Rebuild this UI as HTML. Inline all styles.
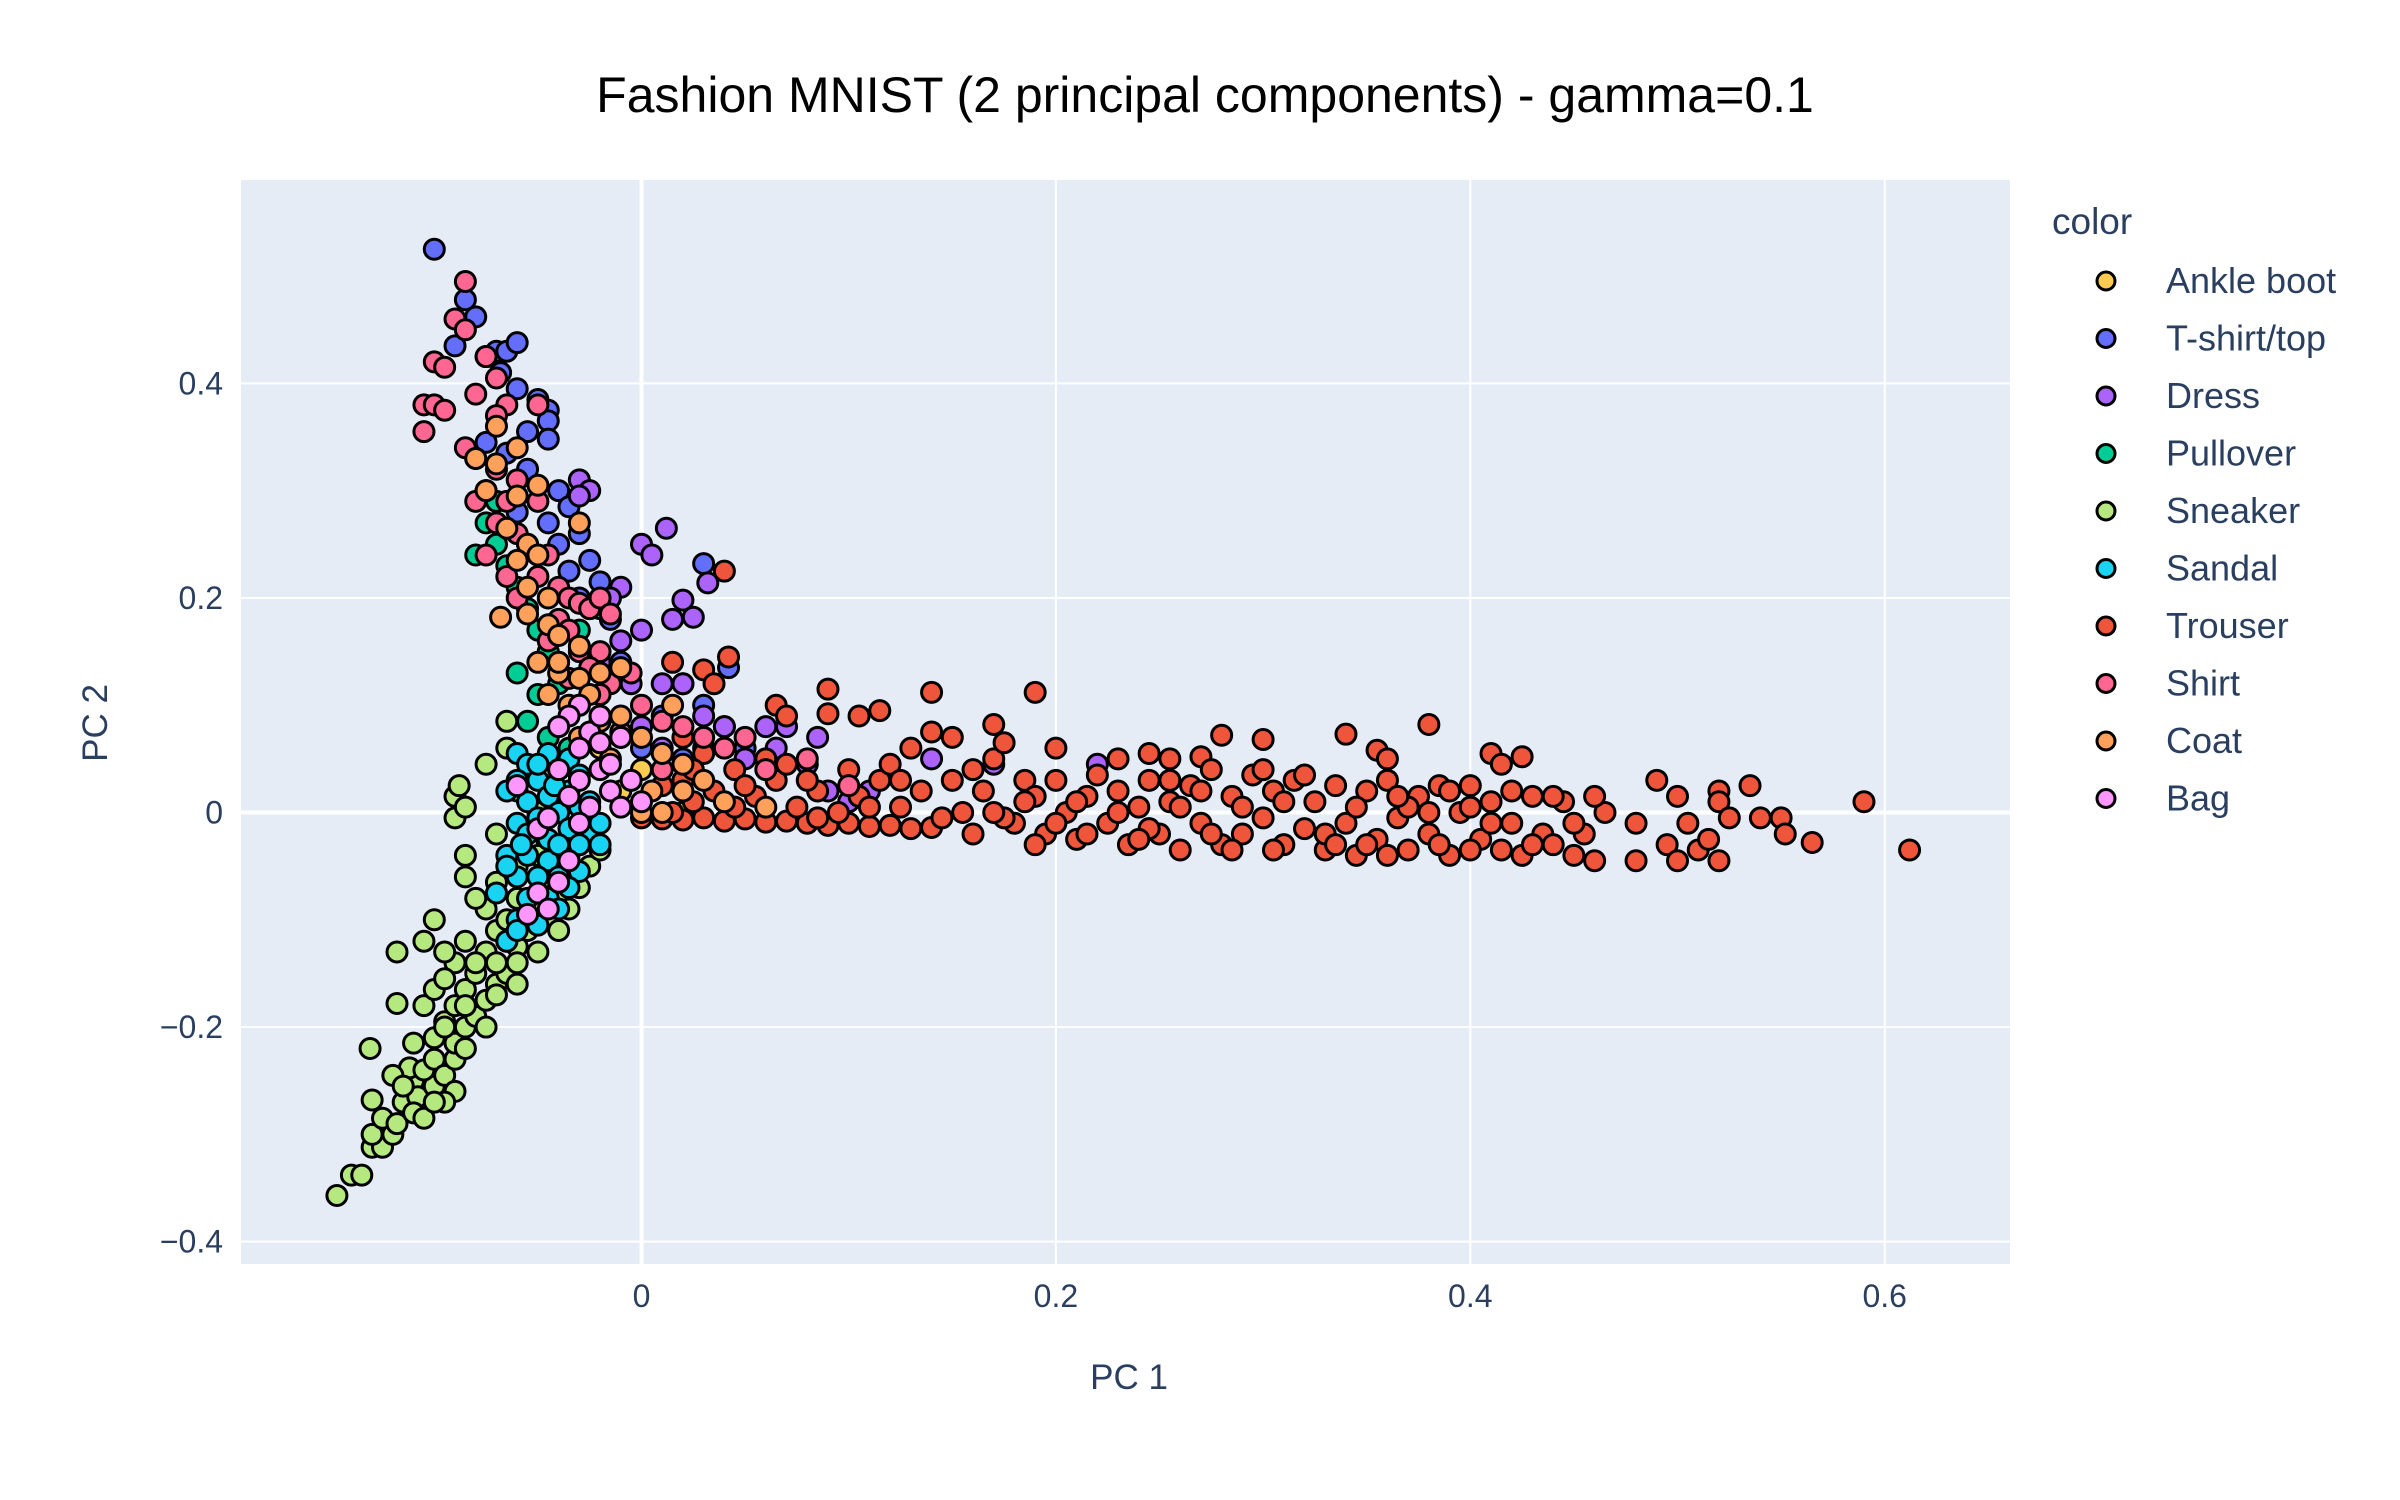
<!DOCTYPE html>
<html><head><meta charset="utf-8"><style>
html,body{margin:0;padding:0;background:#fff;}
svg{display:block;font-family:"Liberation Sans",sans-serif;}
</style></head><body>
<svg id="chart" width="2400" height="1500" viewBox="0 0 2400 1500" xmlns="http://www.w3.org/2000/svg">
<rect x="0" y="0" width="2400" height="1500" fill="#fff"/>
<rect x="241" y="180" width="1769" height="1084" fill="#e5ecf6"/>
<g id="grid"></g>
<g id="marks"></g>
<g id="axes"></g>
<text x="1205" y="112" text-anchor="middle" font-size="50" fill="#000">Fashion MNIST (2 principal components) - gamma=0.1</text>
<text x="1129" y="1389" text-anchor="middle" font-size="35" fill="#2a3f5f">PC 1</text>
<text transform="translate(107,723) rotate(-90)" text-anchor="middle" font-size="35" fill="#2a3f5f">PC 2</text>
<g id="legend"></g>
</svg>
<script>
const xTicks=[0,0.2,0.4,0.6];
const xTickLabels=["0","0.2","0.4","0.6"];
const yTicks=[-0.4,-0.2,0,0.2,0.4];
const yTickLabels=["−0.4","−0.2","0","0.2","0.4"];
const categories=["Ankle boot","T-shirt/top","Dress","Pullover","Sneaker","Sandal","Trouser","Shirt","Coat","Bag"];
const colors=["#FECB52","#636EFA","#AB63FA","#00CC96","#B6E880","#19D3F3","#EF553B","#FF6692","#FFA15A","#FF97FF"];
const ankleBoot=[[-0.02,0.06],[0.0,0.04],[-0.01,0.02],[0.02,0.0]];
const tshirt=[[-0.1,0.525],[-0.085,0.478],[-0.08,0.462],[-0.09,0.435],[-0.075,0.425],[-0.07,0.43],[-0.065,0.43],[-0.06,0.438],[-0.068,0.41],[-0.06,0.395],[-0.05,0.385],[-0.045,0.375],[-0.045,0.365],[-0.045,0.348],[-0.055,0.355],[-0.075,0.345],[-0.065,0.335],[-0.055,0.32],[-0.04,0.3],[-0.035,0.285],[-0.045,0.27],[-0.03,0.26],[-0.025,0.235],[-0.035,0.225],[-0.02,0.215],[-0.015,0.18],[-0.025,0.19],[-0.04,0.25],[0.03,0.232],[0.02,0.12],[0.03,0.1],[0.04,0.08],[0.01,0.09],[-0.01,0.14],[0.05,0.06],[0.0,0.06],[0.02,0.05],[-0.03,0.2],[-0.05,0.24],[-0.06,0.28],[0.042,0.135]];
const dress=[[0.012,0.265],[0.0,0.25],[0.005,0.24],[0.032,0.214],[0.02,0.198],[0.015,0.18],[0.025,0.182],[-0.01,0.21],[-0.015,0.2],[0.0,0.17],[-0.01,0.16],[0.01,0.12],[0.02,0.12],[-0.03,0.31],[-0.025,0.3],[-0.03,0.295],[0.03,0.09],[0.04,0.08],[0.06,0.08],[0.07,0.08],[0.065,0.06],[0.08,0.045],[0.09,0.02],[0.11,0.02],[0.1,0.01],[0.0,0.08],[0.01,0.06],[-0.02,0.14],[-0.005,0.12],[0.03,0.06],[0.05,0.05],[0.085,0.07],[0.14,0.05],[0.17,0.045],[0.22,0.045]];
const pullover=[[-0.08,0.24],[-0.075,0.27],[-0.07,0.25],[-0.065,0.23],[-0.06,0.21],[-0.055,0.19],[-0.05,0.17],[-0.045,0.15],[-0.04,0.14],[-0.06,0.13],[-0.05,0.11],[-0.04,0.12],[-0.03,0.1],[-0.02,0.09],[-0.055,0.085],[-0.045,0.07],[-0.035,0.06],[-0.02,0.19],[-0.03,0.17],[-0.01,0.07],[-0.07,0.29]];
const sneaker=[[-0.147,-0.357],[-0.14,-0.338],[-0.135,-0.338],[-0.13,-0.312],[-0.125,-0.312],[-0.13,-0.3],[-0.12,-0.3],[-0.13,-0.268],[-0.125,-0.285],[-0.115,-0.27],[-0.118,-0.29],[-0.131,-0.22],[-0.11,-0.25],[-0.108,-0.265],[-0.1,-0.255],[-0.112,-0.238],[-0.105,-0.24],[-0.1,-0.23],[-0.095,-0.245],[-0.09,-0.23],[-0.11,-0.215],[-0.1,-0.21],[-0.09,-0.215],[-0.085,-0.2],[-0.095,-0.195],[-0.105,-0.18],[-0.118,-0.178],[-0.09,-0.18],[-0.08,-0.19],[-0.075,-0.175],[-0.085,-0.165],[-0.07,-0.16],[-0.08,-0.15],[-0.065,-0.15],[-0.09,-0.14],[-0.095,-0.13],[-0.118,-0.13],[-0.105,-0.12],[-0.1,-0.1],[-0.085,-0.12],[-0.075,-0.13],[-0.06,-0.125],[-0.07,-0.11],[-0.075,-0.09],[-0.065,-0.1],[-0.055,-0.11],[-0.08,-0.08],[-0.06,-0.08],[-0.07,-0.065],[-0.085,-0.06],[-0.05,-0.09],[-0.045,-0.1],[-0.06,-0.05],[-0.045,-0.06],[-0.04,-0.075],[-0.085,-0.04],[-0.09,-0.005],[-0.09,0.015],[-0.088,0.025],[-0.085,0.005],[-0.075,0.045],[-0.065,0.085],[-0.065,0.06],[-0.055,-0.03],[-0.05,-0.04],[-0.035,-0.05],[-0.03,-0.03],[-0.06,0.02],[-0.07,-0.02],[-0.05,0.0],[-0.05,-0.13],[-0.06,-0.14],[-0.07,-0.17],[-0.09,-0.26],[-0.095,-0.27],[-0.11,-0.28],[-0.105,-0.285],[-0.085,-0.22],[-0.075,-0.2],[-0.06,-0.16],[-0.04,-0.11],[-0.035,-0.09],[-0.03,-0.07],[-0.025,-0.05],[-0.02,-0.035],[-0.1,-0.165],[-0.095,-0.155],[-0.08,-0.14],[-0.07,-0.14],[-0.065,-0.12],[-0.12,-0.245],[-0.115,-0.255],[-0.1,-0.27],[-0.095,-0.2],[-0.085,-0.18]];
const sandal=[[-0.06,0.055],[-0.055,0.045],[-0.045,0.055],[-0.06,0.03],[-0.065,0.02],[-0.05,0.03],[-0.04,0.04],[-0.035,0.05],[-0.03,0.035],[-0.055,0.01],[-0.045,0.015],[-0.035,0.02],[-0.06,-0.01],[-0.05,-0.005],[-0.04,0.0],[-0.03,0.005],[-0.025,0.01],[-0.055,-0.02],[-0.045,-0.025],[-0.035,-0.015],[-0.025,-0.02],[-0.065,-0.04],[-0.055,-0.04],[-0.045,-0.045],[-0.035,-0.04],[-0.03,-0.03],[-0.06,-0.06],[-0.05,-0.06],[-0.04,-0.06],[-0.03,-0.055],[-0.055,-0.08],[-0.045,-0.08],[-0.035,-0.07],[-0.06,-0.1],[-0.05,-0.105],[-0.065,-0.12],[-0.06,-0.11],[-0.04,-0.09],[-0.07,-0.075],[-0.065,-0.05],[-0.02,-0.01],[-0.02,-0.03],[-0.04,-0.03],[-0.05,0.045],[-0.042,0.025],[-0.058,-0.03]];
const trouser=[[0.04,0.225],[0.042,0.145],[0.03,0.133],[0.035,0.12],[0.015,0.14],[0.09,0.115],[0.14,0.112],[0.19,0.112],[0.115,0.095],[0.105,0.09],[0.065,0.1],[0.07,0.09],[0.09,0.092],[0.17,0.082],[0.2,0.06],[0.28,0.072],[0.3,0.068],[0.34,0.073],[0.38,0.082],[0.41,0.055],[0.415,0.045],[0.425,0.052],[0.355,0.058],[0.36,0.05],[0.27,0.052],[0.23,0.05],[0.255,0.05],[0.245,0.055],
[0.0,-0.005],[0.01,-0.006],[0.02,-0.007],[0.03,-0.005],[0.04,-0.008],[0.05,-0.006],[0.06,-0.009],[0.07,-0.008],[0.08,-0.01],[0.09,-0.012],[0.1,-0.01],[0.11,-0.013],[0.12,-0.012],[0.13,-0.015],[0.14,-0.014],[0.015,0.0],[0.025,0.01],[0.035,0.02],[0.045,0.005],[0.055,0.015],[0.065,0.03],[0.075,0.005],[0.085,0.02],[0.095,0.0],[0.105,0.015],[0.115,0.03],[0.125,0.005],[0.135,0.02],[0.145,-0.005],[0.06,0.05],[0.07,0.045],[0.08,0.03],[0.1,0.04],[0.12,0.045],[0.13,0.06],[0.14,0.075],[0.15,0.07],[0.15,0.03],[0.155,0.0],[0.16,-0.02],[0.165,0.02],[0.17,0.05],[0.175,0.065],[0.18,-0.01],[0.185,0.03],[0.19,0.015],[0.195,-0.02],[0.2,0.03],[0.205,0.0],[0.21,-0.025],[0.215,0.015],[0.22,0.035],[0.225,-0.01],[0.23,0.02],[0.235,-0.03],[0.24,0.005],[0.245,0.03],[0.25,-0.02],[0.255,0.01],[0.26,-0.035],[0.265,0.025],[0.27,-0.01],[0.275,0.04],[0.28,-0.03],[0.285,0.015],[0.29,-0.02],[0.295,0.035],[0.3,-0.005],[0.305,0.02],[0.31,-0.03],[0.315,0.03],[0.32,-0.015],[0.325,0.01],[0.33,-0.035],[0.335,0.025],[0.34,-0.01],[0.345,-0.04],[0.35,0.02],[0.355,-0.025],[0.36,0.03],[0.365,-0.005],[0.37,-0.035],[0.375,0.015],[0.38,-0.02],[0.385,0.025],[0.39,-0.04],[0.395,0.0],[0.4,0.025],[0.405,-0.025],[0.41,0.01],[0.415,-0.035],[0.42,-0.01],[0.425,-0.04],[0.43,0.015],[0.435,-0.02],[0.44,-0.03],[0.445,0.01],[0.45,-0.04],[0.455,-0.02],[0.46,-0.045],[0.465,0.0],[0.46,0.015],[0.48,-0.045],[0.48,-0.01],[0.49,0.03],[0.495,-0.03],[0.5,-0.045],[0.5,0.015],[0.505,-0.01],[0.51,-0.035],[0.515,-0.025],[0.52,0.02],[0.52,0.01],[0.525,-0.005],[0.52,-0.045],[0.535,0.025],[0.54,-0.005],[0.55,-0.005],[0.552,-0.02],[0.565,-0.028],[0.59,0.01],[0.612,-0.035],[0.02,0.03],[0.045,0.04],[0.05,0.025],[0.085,-0.005],[0.11,0.005],[0.125,0.03],[0.16,0.04],[0.175,-0.005],[0.185,0.01],[0.2,-0.01],[0.215,-0.02],[0.23,0.0],[0.245,-0.015],[0.26,0.005],[0.27,0.02],[0.285,-0.035],[0.3,0.04],[0.31,0.01],[0.32,0.035],[0.33,-0.02],[0.345,0.005],[0.36,-0.04],[0.37,0.005],[0.38,0.0],[0.39,0.02],[0.4,-0.035],[0.41,-0.01],[0.42,0.02],[0.43,-0.03],[0.44,0.015],[0.45,-0.01],[0.17,0.0],[0.19,-0.03],[0.21,0.01],[0.24,-0.025],[0.255,0.03],[0.275,-0.02],[0.29,0.005],[0.305,-0.035],[0.335,-0.03],[0.35,-0.03],[0.365,0.015],[0.385,-0.03],[0.4,0.005],[0.02,0.07],[0.03,0.055],[0.01,0.025],[0.025,0.04]];
const shirt=[[-0.085,0.495],[-0.09,0.46],[-0.085,0.45],[-0.1,0.42],[-0.095,0.415],[-0.105,0.38],[-0.1,0.38],[-0.095,0.375],[-0.105,0.355],[-0.08,0.39],[-0.075,0.425],[-0.07,0.405],[-0.065,0.38],[-0.07,0.37],[-0.05,0.38],[-0.085,0.34],[-0.08,0.33],[-0.07,0.32],[-0.06,0.31],[-0.075,0.3],[-0.065,0.29],[-0.07,0.27],[-0.06,0.26],[-0.05,0.29],[-0.055,0.25],[-0.045,0.24],[-0.05,0.22],[-0.04,0.21],[-0.035,0.2],[-0.03,0.195],[-0.025,0.19],[-0.02,0.2],[-0.015,0.185],[-0.04,0.18],[-0.035,0.17],[-0.045,0.16],[-0.03,0.15],[-0.02,0.15],[-0.025,0.135],[-0.035,0.125],[-0.015,0.12],[-0.005,0.13],[-0.02,0.11],[-0.03,0.1],[0.0,0.1],[0.01,0.085],[-0.01,0.075],[0.02,0.08],[0.03,0.07],[0.04,0.06],[0.01,0.04],[0.06,0.04],[0.05,0.07],[0.08,0.05],[0.1,0.025],[-0.06,0.2],[-0.065,0.22],[-0.075,0.24],[-0.08,0.29]];
const coat=[[-0.08,0.33],[-0.07,0.325],[-0.075,0.3],[-0.06,0.295],[-0.05,0.305],[-0.065,0.265],[-0.055,0.25],[-0.06,0.235],[-0.05,0.24],[-0.055,0.21],[-0.045,0.2],[-0.055,0.185],[-0.068,0.182],[-0.045,0.175],[-0.04,0.165],[-0.03,0.155],[-0.05,0.14],[-0.04,0.13],[-0.03,0.125],[-0.02,0.13],[-0.01,0.135],[-0.025,0.11],[-0.035,0.1],[-0.02,0.085],[-0.01,0.09],[0.0,0.07],[0.01,0.055],[0.02,0.045],[-0.03,0.07],[-0.015,0.05],[-0.005,0.03],[0.02,0.02],[0.04,0.01],[0.06,0.005],[0.005,0.02],[-0.03,0.27],[-0.07,0.36],[-0.06,0.34],[0.015,0.1],[0.03,0.03],[-0.04,0.14],[0.0,0.0],[0.01,0.0],[-0.045,0.11]];
const bag=[[-0.06,0.025],[-0.05,-0.015],[-0.03,0.1],[-0.035,0.09],[-0.04,0.08],[-0.025,0.075],[-0.03,0.06],[-0.02,0.065],[-0.04,0.04],[-0.03,0.03],[-0.02,0.04],[-0.015,0.02],[-0.035,0.015],[-0.025,0.005],[-0.01,0.005],[-0.045,-0.005],[-0.05,-0.075],[-0.04,-0.065],[-0.055,-0.095],[-0.045,-0.09],[-0.035,-0.045],[-0.03,-0.01],[-0.015,0.045],[-0.005,0.03],[0.0,0.01],[-0.02,0.09],[-0.01,0.07]];
const series=[ankleBoot,tshirt,dress,pullover,sneaker,sandal,trouser,shirt,coat,bag];

const NS="http://www.w3.org/2000/svg";
const PL=241,PR=2010,PT=180,PB=1264;
function xs(v){return 641.5+v*2072;}
function ys(v){return 812.5-v*1072.8;}
function mk(tag,attrs,parent){const e=document.createElementNS(NS,tag);for(const k in attrs)e.setAttribute(k,attrs[k]);parent.appendChild(e);return e;}
const grid=document.getElementById('grid'),axes=document.getElementById('axes'),marks=document.getElementById('marks'),legend=document.getElementById('legend');
xTicks.forEach((t,i)=>{
  const l=mk('line',{x1:xs(t),x2:xs(t),y1:PT,y2:PB,stroke:'#fff','stroke-width':t===0?4:2},grid);
  
  
  const tx=mk('text',{x:xs(t),y:1307,'text-anchor':'middle','font-size':32,fill:'#2a3f5f'},axes);
  tx.textContent=xTickLabels[i];
  
  
});
yTicks.forEach((t,i)=>{
  const l=mk('line',{x1:PL,x2:PR,y1:ys(t),y2:ys(t),stroke:'#fff','stroke-width':t===0?4:2},grid);
  
  
  const tx=mk('text',{x:223,y:ys(t)+11,'text-anchor':'end','font-size':32,fill:'#2a3f5f'},axes);
  tx.textContent=yTickLabels[i];
  
  
});
series.forEach((pts,si)=>{
  const g=mk('g',{},marks);
  
  
  pts.forEach(p=>{
    const c=mk('circle',{cx:xs(p[0]),cy:ys(p[1]),r:10,fill:colors[si],stroke:'#000','stroke-width':3},g);
    
    
  });
});
const lt=mk('text',{x:2052,y:234,'font-size':37,fill:'#2a3f5f'},legend);
lt.textContent='color';


categories.forEach((c,i)=>{
  const y=281+i*57.5;
  const g=mk('g',{},legend);
  
  
  mk('circle',{cx:2106,cy:y,r:9,fill:colors[i],stroke:'#000','stroke-width':3},g);
  const t=mk('text',{x:2166,y:y+12,'font-size':36,fill:'#2a3f5f'},g);
  t.textContent=c;
});
</script>
</body></html>
